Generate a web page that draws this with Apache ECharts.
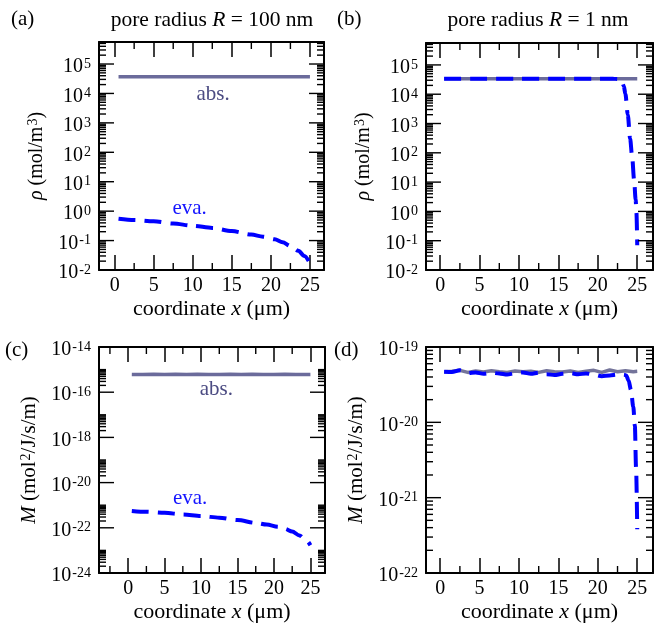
<!DOCTYPE html>
<html>
<head>
<meta charset="utf-8">
<script src="https://cdn.jsdelivr.net/npm/echarts@6/dist/echarts.min.js"></script>
<style>
html,body{margin:0;padding:0;background:#fff;}
#chart{width:665px;height:624px;}
</style>
</head>
<body>
<div id="chart"></div>
<script>
// ticks
var xMajor = [0, 5, 10, 15, 20, 25];
var xMinor = [-2.5, 2.5, 7.5, 12.5, 17.5, 22.5];
var expRho = [-2, -1, 0, 1, 2, 3, 4, 5];
var expMc = [-24, -22, -20, -18, -16, -14];
var expMd = [-22, -21, -20, -19];

// (a) pore radius 100 nm, density
var xAbsA = [0.5, 25];
var rhoAbsA = [37000, 37000];
var xEvaA = [0.5, 2.5, 5, 7.5, 10, 12.5, 15, 17.5, 19, 20.5, 21.5, 22.5, 23.5, 24.3, 25];
var rhoEvaA = [0.55, 0.5, 0.45, 0.38, 0.32, 0.27, 0.21, 0.16, 0.135, 0.11, 0.088, 0.066, 0.045, 0.03, 0.017];

// (b) pore radius 1 nm, density
var xAbsB = [0.5, 25];
var rhoAbsB = [34000, 34000];
var xEvaB = [0.5, 5, 10, 15, 20, 22, 22.5, 23, 23.3, 23.5, 23.8, 24.1, 24.35, 24.6, 24.8, 24.9, 25];
var rhoEvaB = [34000, 34000, 34000, 34000, 34000, 33800, 33000, 30000, 19000, 10000, 2000, 300, 75, 12, 2.5, 0.9, 0.07];

// (c) pore radius 100 nm, mobility
var xAbsC = [0.5, 2, 3.5, 5, 6.5, 8, 9.5, 11, 12.5, 14, 15.5, 17, 18.5, 20, 21.5, 23, 25];
var mAbsC = [6.1e-16, 6.0e-16, 6.3e-16, 6.0e-16, 6.2e-16, 6.0e-16, 6.3e-16, 6.1e-16, 6.0e-16, 6.2e-16, 6.0e-16, 6.3e-16, 6.1e-16, 6.0e-16, 6.2e-16, 6.0e-16, 6.1e-16];
var xEvaC = [0.5, 2.5, 5, 7.5, 10, 12.5, 15, 17.5, 19, 20.5, 21.5, 22.5, 23.5, 24.3, 25];
var mEvaC = [5.6e-22, 5.1e-22, 4.6e-22, 3.9e-22, 3.3e-22, 2.8e-22, 2.2e-22, 1.65e-22, 1.4e-22, 1.12e-22, 9e-23, 6.8e-23, 4.6e-23, 3.1e-23, 1.7e-23];

// (d) pore radius 1 nm, mobility
var xAbsD = [0.5, 1.5, 2.5, 3.5, 4.5, 5.5, 6.5, 7.5, 8.5, 9.5, 10.5, 11.5, 12.5, 13.5, 14.5, 15.5, 16.5, 17.5, 18.5, 19.5, 20.5, 21.5, 22.5, 23.5, 24.5, 25];
var mAbsD = [4.7e-20, 4.75e-20, 4.9e-20, 4.6e-20, 4.8e-20, 4.65e-20, 4.85e-20, 4.7e-20, 4.6e-20, 4.8e-20, 4.7e-20, 4.75e-20, 4.6e-20, 4.85e-20, 4.7e-20, 4.65e-20, 4.8e-20, 4.6e-20, 4.75e-20, 4.9e-20, 4.6e-20, 4.95e-20, 4.7e-20, 4.85e-20, 4.7e-20, 4.75e-20];
var xEvaD = [0.5, 1.5, 2.5, 3.5, 4.5, 5.5, 6.5, 7.5, 8.5, 9.5, 10.5, 11.5, 12.5, 13.5, 14.5, 15.5, 16.5, 17.5, 18.5, 19.5, 20.5, 21.5, 22.5, 23.3, 23.6, 23.9, 24.2, 24.5, 24.7, 24.85, 25];
var mEvaD = [4.7e-20, 4.65e-20, 4.9e-20, 4.5e-20, 4.6e-20, 4.4e-20, 4.55e-20, 4.45e-20, 4.3e-20, 4.5e-20, 4.6e-20, 4.4e-20, 4.55e-20, 4.35e-20, 4.25e-20, 4.4e-20, 4.5e-20, 4.35e-20, 4.45e-20, 4.3e-20, 4.1e-20, 4.2e-20, 4.3e-20, 4.3e-20, 4.2e-20, 3.6e-20, 2.7e-20, 1.6e-20, 9e-21, 2.5e-21, 3.8e-22];

var FONT = 'Liberation Serif';
var ABS = '#6b6b9b';
var EVA = '#0000ff';

var myChart = echarts.init(document.getElementById('chart'));

// echarts rounds tiny numbers to 20 decimals, so the M panels run on a shifted
// log axis (values times 10^24 / 10^22) and the labels undo the shift
var yShift = [0, 0, 24, 22];

function pairs(xs, ys, g) {
	var f = Math.pow(10, yShift[g]);
	var out = [];
	for (var i = 0; i < xs.length; i++) out.push([xs[i], ys[i] * f]);
	return out;
}

function richSet(size) {
	return {
		b: {fontFamily: FONT, fontSize: 20, color: '#000', lineHeight: 20, verticalAlign: 'bottom'},
		s: {fontFamily: FONT, fontSize: 14, color: '#000', lineHeight: 14, verticalAlign: 'top', padding: [0, 0, 14, 1]},
		i: {fontFamily: FONT, fontSize: size, color: '#000', fontStyle: 'italic'},
		t: {fontFamily: FONT, fontSize: size, color: '#000'}
	};
}
var supRich = richSet(20);

function yLabel(g) {
	return function (v) {
		var e = Math.log10(v);
		var r = Math.round(e);
		if (Math.abs(e - r) > 1e-3) return '';
		r -= yShift[g];
		if (yExps[g].indexOf(r) < 0) return '';
		return '{b|10}{s|' + r + '}';
	};
}

var grids = [
	{left: 99, top: 42, width: 225, height: 228},
	{left: 426, top: 43, width: 227, height: 227},
	{left: 99, top: 347, width: 226, height: 228},
	{left: 426, top: 347, width: 227, height: 228}
];
var xRange = [[-2, 26.8], [-1.8, 27], [-4, 27], [-1.8, 27]];
// (c) top is a hair under 1e-14 so echarts keeps one-decade steps
var yRange = [[0.01, 560000], [0.01, 560000], [1e-24, 0.9999e-14], [1e-22, 1e-19]];
var yExps = [expRho, expRho, expMc, expMd];
var yNames = [
	'{i|ρ}{t| (mol/m}{s|3}{t|)}',
	'{i|ρ}{t| (mol/m}{s|3}{t|)}',
	'{i|M}{t| (mol}{s|2}{t|/J/s/m)}',
	'{i|M}{t| (mol}{s|2}{t|/J/s/m)}'
];
var yNameGap = [42, 42, 48, 48];
var yNameSize = [20, 20, 21, 21];

function yMin(g) { return yRange[g][0] * Math.pow(10, yShift[g]); }
function yMax(g) { return yRange[g][1] * Math.pow(10, yShift[g]); }

var xAxes = [], yAxes = [];
for (var g = 0; g < 4; g++) {
	xAxes.push({
		type: 'value', gridIndex: g, min: xRange[g][0], max: xRange[g][1],
		minInterval: 5, maxInterval: 5,
		splitLine: {show: false},
		axisLine: {show: true, onZero: false, lineStyle: {color: '#000', width: 2}},
		axisTick: {show: true, inside: true, length: 15, lineStyle: {color: '#000', width: 1.5}},
		axisLabel: {
			margin: 6, fontFamily: FONT, fontSize: 20, color: '#000',
			formatter: function (v) { return xMajor.indexOf(v) >= 0 ? String(v) : ''; }
		},
		name: '{t|coordinate }{i|x}{t| (μm)}',
		nameLocation: 'middle', nameGap: 28,
		nameTextStyle: {rich: richSet(22)}
	});
	xAxes.push({
		type: 'value', gridIndex: g, position: 'top', min: xRange[g][0], max: xRange[g][1],
		minInterval: 5, maxInterval: 5,
		splitLine: {show: false},
		axisLine: {show: true, onZero: false, lineStyle: {color: '#000', width: 2}},
		axisTick: {show: true, inside: true, length: 15, lineStyle: {color: '#000', width: 1.5}},
		axisLabel: {show: false}
	});
	yAxes.push({
		type: 'log', gridIndex: g, min: yMin(g), max: yMax(g), splitNumber: 10,
		splitLine: {show: false},
		axisLine: {show: true, onZero: false, lineStyle: {color: '#000', width: 2}},
		axisTick: {show: false},
		axisLabel: {
			margin: 8, padding: [6, 0, 0, 0],
			formatter: yLabel(g), rich: supRich
		},
		name: yNames[g],
		nameLocation: 'middle', nameRotate: 90, nameGap: yNameGap[g],
		nameTextStyle: {rich: richSet(yNameSize[g])}
	});
	yAxes.push({
		type: 'log', gridIndex: g, position: 'right', min: yMin(g), max: yMax(g), splitNumber: 10,
		splitLine: {show: false},
		axisLine: {show: true, onZero: false, lineStyle: {color: '#000', width: 2}},
		axisTick: {show: false},
		axisLabel: {show: false}
	});
}

// tick lists for the log axes (major 15px, minor 7px), in real units
function rhoTicks() {
	var t = [];
	for (var i = 0; i < expRho.length; i++) {
		var p = Math.pow(10, expRho[i]);
		t.push([p, 15]);
		for (var k = 2; k <= 9; k++) if (k * p < 560000) t.push([k * p, 7]);
	}
	return t;
}
function mcTicks() {
	var t = [];
	for (var i = 0; i < expMc.length; i++) {
		var p = Math.pow(10, expMc[i]);
		if (expMc[i] < -14) {
			t.push([p, 15]);
			for (var k = 2; k <= 10; k++) t.push([k * p, 7]);
		}
	}
	return t;
}
function mdTicks() {
	var t = [];
	for (var i = 0; i < expMd.length; i++) {
		var p = Math.pow(10, expMd[i]);
		t.push([p, 15]);
		if (expMd[i] < -19) for (var k = 2; k <= 9; k++) t.push([k * p, 7]);
	}
	return t;
}
var yTicks = [rhoTicks(), rhoTicks(), mcTicks(), mdTicks()];

function yTickSeries(g) {
	var f = Math.pow(10, yShift[g]);
	return {
		type: 'custom', xAxisIndex: 2 * g, yAxisIndex: 2 * g, silent: true, clip: false, z: 10,
		data: yTicks[g].map(function (t) { return [xRange[g][0], t[0] * f, t[1]]; }),
		renderItem: function (params, api) {
			var cs = params.coordSys;
			var y = api.coord([api.value(0), api.value(1)])[1];
			var l = api.value(2);
			return {type: 'group', children: [
				{type: 'line', shape: {x1: cs.x, y1: y, x2: cs.x + l, y2: y}, style: {stroke: '#000', lineWidth: 1.4}},
				{type: 'line', shape: {x1: cs.x + cs.width - l, y1: y, x2: cs.x + cs.width, y2: y}, style: {stroke: '#000', lineWidth: 1.4}}
			]};
		}
	};
}
function xTickSeries(g) {
	var xs = xMinor.filter(function (v) { return v > xRange[g][0] && v < xRange[g][1]; });
	return {
		type: 'custom', xAxisIndex: 2 * g, yAxisIndex: 2 * g, silent: true, clip: false, z: 10,
		data: xs.map(function (v) { return [v, yMin(g)]; }),
		renderItem: function (params, api) {
			var cs = params.coordSys;
			var x = api.coord([api.value(0), api.value(1)])[0];
			return {type: 'group', children: [
				{type: 'line', shape: {x1: x, y1: cs.y + cs.height, x2: x, y2: cs.y + cs.height - 7}, style: {stroke: '#000', lineWidth: 1.4}},
				{type: 'line', shape: {x1: x, y1: cs.y, x2: x, y2: cs.y + 7}, style: {stroke: '#000', lineWidth: 1.4}}
			]};
		}
	};
}

function tagPoint(text, color, g, at) {
	return {
		symbol: 'circle', symbolSize: 1, itemStyle: {color: 'rgba(0,0,0,0)'},
		label: {show: true, position: 'inside', formatter: text, fontFamily: FONT, fontSize: 21, color: color},
		data: [{coord: [at[0], at[1] * Math.pow(10, yShift[g])]}]
	};
}

function absLine(g, data, color, tag) {
	var s = {
		type: 'line', xAxisIndex: 2 * g, yAxisIndex: 2 * g, data: data, symbol: 'none', z: 3,
		lineStyle: {color: color, width: 3.5}
	};
	if (tag) s.markPoint = tagPoint('abs.', '#4b4b82', g, tag);
	return s;
}
function evaLine(g, data, tag) {
	var s = {
		type: 'line', xAxisIndex: 2 * g, yAxisIndex: 2 * g, data: data, symbol: 'none', z: 4,
		smooth: 0.3, smoothMonotone: 'x',
		lineStyle: {color: EVA, width: 4, type: [17, 9]}
	};
	if (tag) s.markPoint = tagPoint('eva.', '#1515ff', g, tag);
	return s;
}

var titleStyle = {fontFamily: FONT, fontSize: 21, color: '#000', fontWeight: 'normal', rich: richSet(21.5)};

option = {
	animation: false,
	backgroundColor: '#fff',
	title: [
		{text: '(a)', left: 11, top: 9, padding: 0, textStyle: titleStyle},
		{text: '{t|pore radius }{i|R}{t| = 100 nm}', left: 212, top: 9, padding: 0, textAlign: 'center', textStyle: titleStyle},
		{text: '(b)', left: 337, top: 9, padding: 0, textStyle: titleStyle},
		{text: '{t|pore radius }{i|R}{t| = 1 nm}', left: 538, top: 9, padding: 0, textAlign: 'center', textStyle: titleStyle},
		{text: '(c)', left: 5, top: 340, padding: 0, textStyle: titleStyle},
		{text: '(d)', left: 334, top: 340, padding: 0, textStyle: titleStyle}
	],
	grid: grids,
	xAxis: xAxes,
	yAxis: yAxes,
	series: [
		absLine(0, pairs(xAbsA, rhoAbsA, 0), ABS, [12.6, 9000]),
		evaLine(0, pairs(xEvaA, rhoEvaA, 0), [9.6, 1.2]),
		absLine(1, pairs(xAbsB, rhoAbsB, 1), ABS),
		evaLine(1, pairs(xEvaB, rhoEvaB, 1)),
		absLine(2, pairs(xAbsC, mAbsC, 2), ABS, [12.1, 1.35e-16]),
		evaLine(2, pairs(xEvaC, mEvaC, 2), [8.5, 2e-21]),
		absLine(3, pairs(xAbsD, mAbsD, 3), '#74749a'),
		evaLine(3, pairs(xEvaD, mEvaD, 3)),
		yTickSeries(0), yTickSeries(1), yTickSeries(2), yTickSeries(3),
		xTickSeries(0), xTickSeries(1), xTickSeries(2), xTickSeries(3)
	]
};
myChart.setOption(option);
</script>
</body>
</html>
